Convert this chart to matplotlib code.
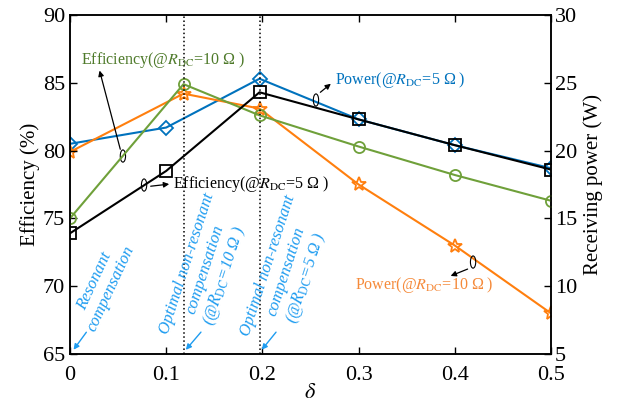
import numpy as np
import matplotlib
matplotlib.use('Agg')
import matplotlib.pyplot as plt
from matplotlib.patches import Ellipse

plt.rcParams['font.family'] = ['Liberation Serif', 'DejaVu Serif']
plt.rcParams['mathtext.fontset'] = 'stix'

# 数据
delta_a = [0, 0.118, 0.197, 0.3, 0.4, 0.5]   # 10 Ω 的点
delta_b = [0, 0.1, 0.197, 0.3, 0.4, 0.5]     # 5 Ω 的点
eff_10 = [75.0, 84.9, 82.6, 80.3, 78.2, 76.3]
eff_5 = [73.9, 78.5, 84.3, 82.3, 80.4, 78.6]
pow_5 = [20.5, 21.7, 25.3, 22.3, 20.4, 18.7]
pow_10 = [19.9, 24.2, 23.1, 17.5, 13.0, 8.0]
opt_delta = [0.118, 0.197]

c_blue = '#0072BD'
c_orange = '#FF7F0E'
c_green = '#6FA03A'
c_note = '#1E9CF0'

fig = plt.figure(figsize=(6.2, 4.03), dpi=100)
ax = fig.add_axes([0.1129, 0.1216, 0.7758, 0.8412])
ax2 = ax.twinx()

# 右轴：功率
ax2.plot(delta_b, pow_5, color=c_blue, lw=1.5, marker='D', ms=7, mfc='none', mew=1.3)
ax2.plot(delta_a, pow_10, color=c_orange, lw=1.5, marker='*', ms=10, mfc='none', mew=1.3)
ax2.set_ylim(5, 30)
ax2.set_yticks(np.arange(5, 31, 5))
ax2.set_ylabel('Receiving power (W)', fontsize=15)

# 左轴：效率
ax.plot(delta_a, eff_10, color=c_green, lw=1.5, marker='o', ms=8, mfc='none', mew=1.3)
ax.plot(delta_b, eff_5, color='black', lw=1.5, marker='s', ms=8, mfc='none', mew=1.3)
for d in opt_delta:
    ax.axvline(d, color='black', ls=':', lw=1.1)
ax.set_xlim(0, 0.5)
ax.set_ylim(65, 90)
ax.set_xticks(np.arange(0, 0.51, 0.1))
ax.set_xticklabels(['0', '0.1', '0.2', '0.3', '0.4', '0.5'])
ax.set_yticks(np.arange(65, 91, 5))
ax.set_ylabel('Efficiency (%)', fontsize=15, labelpad=2)
ax.set_xlabel(r'$\delta$', fontsize=16, labelpad=-1)

ax.set_zorder(ax2.get_zorder() + 1)
ax.patch.set_visible(False)

for a in (ax, ax2):
    a.tick_params(direction='in', labelsize=16, length=5, width=1, top=True)
    for s in a.spines.values():
        s.set_linewidth(1.1)
ax.tick_params(axis='x', pad=9)
ax2.tick_params(axis='y', pad=3)

# 曲线标注
lab = dict(fontsize=11.5, va='center', ha='left')
arr = dict(arrowstyle='-|>', color='black', lw=0.9, mutation_scale=8)
ax.text(0.0114, 86.7, r'Efficiency(@$R_{\mathrm{DC}}$=10 Ω )', color='#4E7A2A', **lab)
ax.annotate('', xy=(0.030, 86.1), xytext=(0.053, 79.9), arrowprops=arr)
ax.add_patch(Ellipse((0.055, 79.6), 0.0055, 0.9, fill=False, ec='black', lw=0.8))

ax.text(0.107, 77.5, r'Efficiency(@$R_{\mathrm{DC}}$=5 Ω )', color='black', **lab)
ax.annotate('', xy=(0.106, 77.55), xytext=(0.081, 77.35), arrowprops=arr)
ax.add_patch(Ellipse((0.077, 77.46), 0.0055, 0.9, fill=False, ec='black', lw=0.8))

ax.text(0.2755, 85.2, r'Power(@$R_{\mathrm{DC}}$=5 Ω )', color=c_blue, **lab)
ax.annotate('', xy=(0.2734, 85.06), xytext=(0.258, 84.17), arrowprops=arr)
ax.add_patch(Ellipse((0.2557, 83.73), 0.0055, 0.9, fill=False, ec='black', lw=0.8))

ax.text(0.296, 70.09, r'Power(@$R_{\mathrm{DC}}$=10 Ω )', color='#F58A3A', **lab)
ax.annotate('', xy=(0.393, 70.68), xytext=(0.416, 71.34), arrowprops=arr)
ax.add_patch(Ellipse((0.419, 71.78), 0.0055, 0.9, fill=False, ec='black', lw=0.8))

# 补偿方式标注
note = dict(fontsize=12, color=c_note, style='italic', ha='center', va='center',
            multialignment='center', rotation_mode='anchor')
barr = dict(arrowstyle='-|>', color=c_note, lw=1.0, mutation_scale=8)
ax.text(0.0343, 70.1, 'Resonant\ncompensation', rotation=65, **note)
ax.annotate('', xy=(0.002, 65.15), xytext=(0.0187, 66.77), arrowprops=barr)
ax.text(0.1424, 71.2, 'Optimal non-resonant\ncompensation\n' + r'(@$R_{\mathrm{DC}}$=10 Ω )',
        rotation=72, **note)
ax.annotate('', xy=(0.1185, 65.15), xytext=(0.138, 66.77), arrowprops=barr)
ax.text(0.2266, 71.05, 'Optimal non-resonant\ncompensation\n' + r'(@$R_{\mathrm{DC}}$=5 Ω )',
        rotation=72, **note)
ax.annotate('', xy=(0.1975, 65.15), xytext=(0.216, 66.77), arrowprops=barr)

fig.savefig('out.png', dpi=100)
